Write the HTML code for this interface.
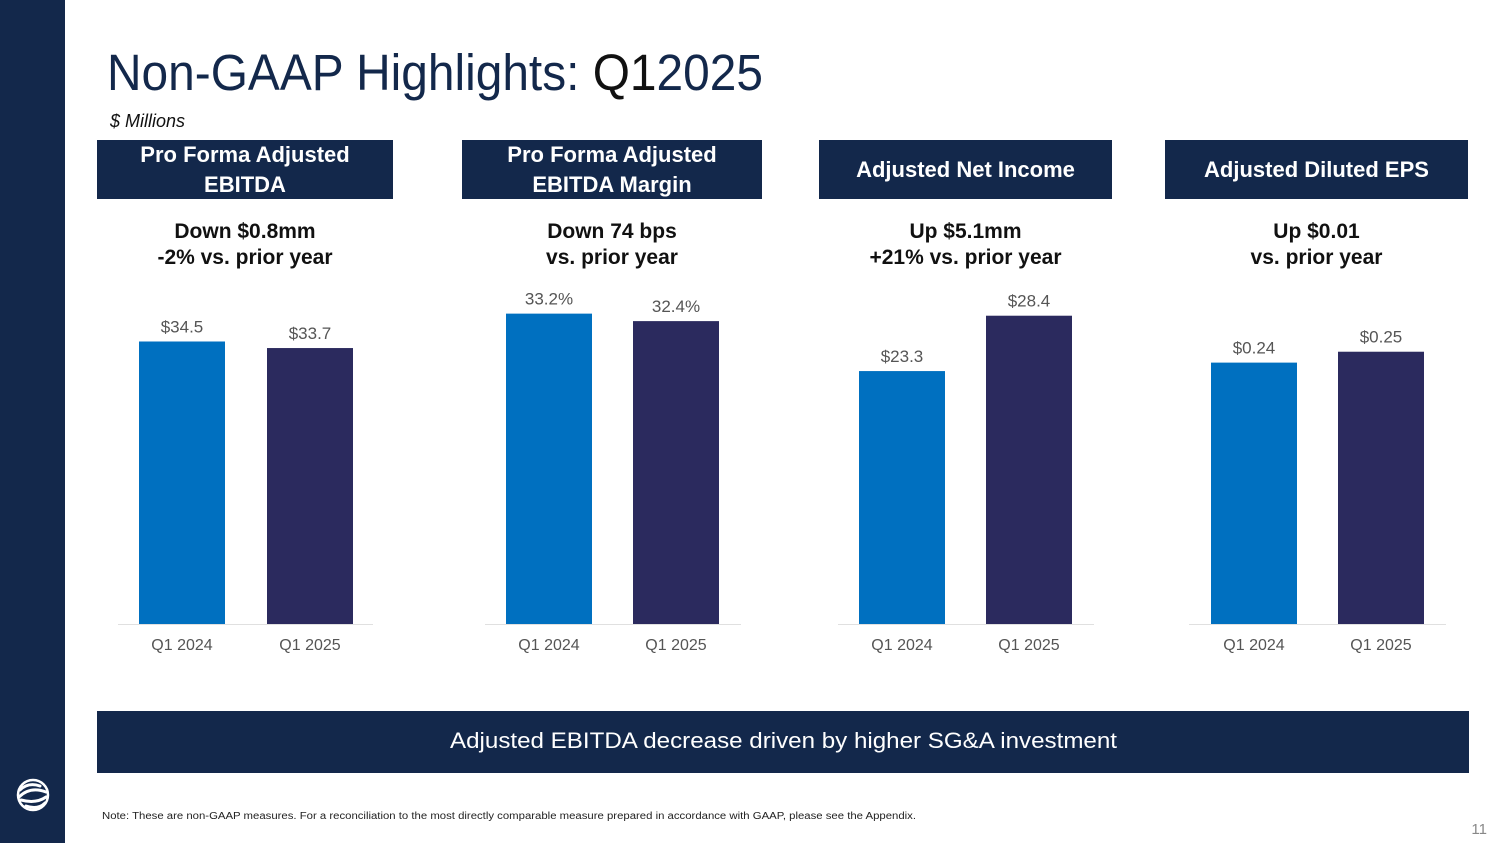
<!DOCTYPE html>
<html><head><meta charset="utf-8"><style>
html,body{margin:0;padding:0;background:#fff}
svg{display:block}
text{font-family:"Liberation Sans","DejaVu Sans",sans-serif}
</style></head><body>
<svg id="page" width="1500" height="843" viewBox="0 0 1500 843" xmlns="http://www.w3.org/2000/svg">
<rect x="0" y="0" width="65" height="843" fill="#13284b"/>
<g fill="none" stroke="#fff" stroke-width="3" stroke-linecap="round">
<circle cx="33" cy="795" r="15" stroke-width="2.5"/>
<path d="M20 790 Q28 782 40 786"/><path d="M19 797 Q30 786 46 792"/>
<path d="M21 800 Q36 804 46 797"/><path d="M26 806 Q38 810 45 803"/>
</g>
<text x="107" y="90" font-size="51" fill="#13284b" textLength="656" lengthAdjust="spacingAndGlyphs">Non-GAAP Highlights: <tspan fill="#111">Q1</tspan>2025</text>
<text x="110" y="127" font-size="18" font-style="italic" fill="#111">$ Millions</text>
<g id="charts"></g>
<rect x="97" y="711" width="1372" height="62" fill="#13284b"/>
<text x="450" y="748" font-size="22" fill="#fff" textLength="667" lengthAdjust="spacingAndGlyphs">Adjusted EBITDA decrease driven by higher SG&amp;A investment</text>
<text x="102" y="819" font-size="10" fill="#222" textLength="814" lengthAdjust="spacingAndGlyphs">Note: These are non-GAAP measures. For a reconciliation to the most directly comparable measure prepared in accordance with GAAP, please see the Appendix.</text>
<text x="1487" y="834" font-size="15" fill="#888" text-anchor="end">11</text>
</svg>
<script>
const categories = ["Q1 2024", "Q1 2025"];
const ebitdaValues = [34.5, 33.7];
const marginValues = [33.2, 32.4];
const netIncomeValues = [23.3, 28.4];
const epsValues = [0.24, 0.25];
const ebitdaLabels = ["$34.5", "$33.7"];
const marginLabels = ["33.2%", "32.4%"];
const netIncomeLabels = ["$23.3", "$28.4"];
const epsLabels = ["$0.24", "$0.25"];
const yMaxes = [40.3, 35.3, 30.4, 0.303];

const NS = "http://www.w3.org/2000/svg";
const root = document.getElementById("charts");
const colors = ["#0070c0", "#2b2a5e"];
const panels = [
  {name:"pro-forma-adjusted-ebitda", hdr:["Pro Forma Adjusted","EBITDA"], bx:97, bw:296, sub:["Down $0.8mm","-2% vs. prior year"], ax:118, aw:255, bars:[139,267], vals:ebitdaValues, labels:ebitdaLabels, ymax:yMaxes[0]},
  {name:"pro-forma-adjusted-ebitda-margin", hdr:["Pro Forma Adjusted","EBITDA Margin"], bx:462, bw:300, sub:["Down 74 bps","vs. prior year"], ax:485, aw:256, bars:[506,633], vals:marginValues, labels:marginLabels, ymax:yMaxes[1]},
  {name:"adjusted-net-income", hdr:["Adjusted Net Income"], bx:819, bw:293, sub:["Up $5.1mm","+21% vs. prior year"], ax:838, aw:256, bars:[859,986], vals:netIncomeValues, labels:netIncomeLabels, ymax:yMaxes[2]},
  {name:"adjusted-diluted-eps", hdr:["Adjusted Diluted EPS"], bx:1165, bw:303, sub:["Up $0.01","vs. prior year"], ax:1189, aw:257, bars:[1211,1338], vals:epsValues, labels:epsLabels, ymax:yMaxes[3]}
];
const baseY = 624, plotH = 330, barW = 86;
function mk(tag, attrs, txt){const e=document.createElementNS(NS,tag);for(const k in attrs)e.setAttribute(k,attrs[k]);if(txt!==undefined)e.textContent=txt;return e;}
panels.forEach(p=>{
  const g = mk("g",{});
  
  
  root.appendChild(g);
  const hb = mk("rect",{x:p.bx,y:140,width:p.bw,height:59,fill:"#13284b"});
  
  
  g.appendChild(hb);
  const cx = p.bx+p.bw/2;
  const ys = p.hdr.length===2 ? [162,192] : [177];
  p.hdr.forEach((t,i)=>{
    const te = mk("text",{x:cx,y:ys[i],"font-size":22,"font-weight":"bold",fill:"#fff","text-anchor":"middle"},t);
    
    
    g.appendChild(te);
  });
  p.sub.forEach((t,i)=>{
    const te = mk("text",{x:cx,y:238+i*26,"font-size":21,"font-weight":"bold",fill:"#111","text-anchor":"middle"},t);
    
    
    g.appendChild(te);
  });
  const axl = mk("line",{x1:p.ax,x2:p.ax+p.aw,y1:baseY+0.5,y2:baseY+0.5,stroke:"#e0e0e0","stroke-width":1});
  
  
  g.appendChild(axl);
  const y = v => baseY - v/p.ymax*plotH;
  p.vals.forEach((v,i)=>{
    const top = y(v);
    const r = mk("rect",{x:p.bars[i],y:top,width:barW,height:baseY-top,fill:colors[i]});
    
    
    g.appendChild(r);
    const vl = mk("text",{x:p.bars[i]+barW/2,y:top-9,"font-size":17,fill:"#555","text-anchor":"middle"},p.labels[i]);
    
    
    g.appendChild(vl);
    const cl = mk("text",{x:p.bars[i]+barW/2,y:650,"font-size":16,fill:"#555","text-anchor":"middle"},categories[i]);
    
    
    g.appendChild(cl);
  });
});
</script>
</body></html>
